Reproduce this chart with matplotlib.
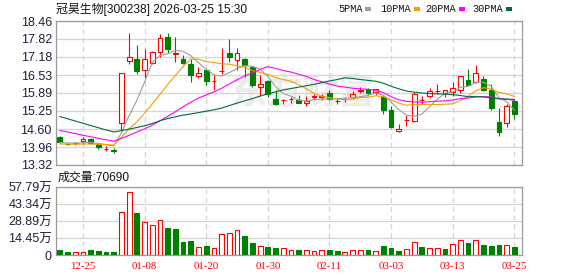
import matplotlib
matplotlib.use("Agg")
import matplotlib.pyplot as plt
from matplotlib.patches import Rectangle

plt.rcParams['font.family'] = ['Liberation Sans', 'Noto Sans CJK SC', 'DejaVu Sans']

# daily K-line, 300238, 2025-12-22 .. 2026-03-25
open_ = [14.33, 14.08, 14.09, 14.16, 14.25, 14.07, 13.88, 13.84, 14.83, 17.04,
         17.09, 16.70, 16.97, 17.36, 17.88, 17.29, 17.12, 16.94, 16.51, 16.70,
         16.31, 16.67, 17.30, 17.08, 17.12, 16.82, 16.10, 16.32, 15.69, 15.64,
         15.68, 15.65, 15.53, 15.76, 15.76, 15.89, 15.61, 15.66, 15.75, 15.97,
         16.04, 15.92, 15.74, 15.27, 14.52, 14.92, 14.88, 15.64, 15.80, 15.95,
         15.89, 15.92, 16.01, 16.37, 16.28, 16.40, 15.98, 14.87, 14.82, 15.59]
high = [14.36, 14.12, 14.14, 14.31, 14.27, 14.08, 14.01, 13.93, 16.62, 18.04,
        17.60, 17.45, 17.39, 18.00, 18.04, 17.88, 17.24, 17.12, 16.82, 16.70,
        16.52, 17.48, 17.80, 17.48, 17.14, 16.84, 16.52, 16.34, 15.98, 15.69,
        15.75, 15.81, 15.77, 15.87, 15.87, 15.99, 15.69, 15.75, 15.95, 16.11,
        16.08, 16.04, 15.81, 15.41, 14.79, 15.09, 15.93, 15.77, 16.08, 16.20,
        16.01, 16.29, 16.49, 16.74, 16.88, 16.49, 16.20, 15.36, 15.48, 15.69]
low = [14.10, 14.02, 14.05, 14.07, 14.07, 13.90, 13.83, 13.74, 14.55, 16.94,
       16.58, 16.43, 16.94, 17.18, 17.30, 16.98, 16.94, 16.29, 16.43, 16.16,
       16.01, 16.58, 16.98, 16.70, 16.46, 16.12, 15.80, 15.75, 15.45, 15.48,
       15.53, 15.53, 15.41, 15.69, 15.63, 15.63, 15.48, 15.57, 15.69, 15.89,
       15.87, 15.81, 15.15, 14.63, 14.49, 14.70, 14.85, 15.51, 15.71, 15.87,
       15.75, 15.77, 15.89, 16.16, 16.26, 15.95, 15.27, 14.34, 14.67, 14.97]
close = [14.13, 14.07, 14.10, 14.26, 14.09, 13.95, 13.89, 13.83, 16.60, 17.16,
         16.67, 17.12, 17.34, 17.84, 17.46, 17.30, 16.97, 16.53, 16.60, 16.32,
         16.32, 16.68, 17.18, 17.30, 16.88, 16.16, 16.20, 15.84, 15.51, 15.65,
         15.69, 15.53, 15.60, 15.77, 15.77, 15.69, 15.60, 15.67, 15.87, 15.98,
         15.89, 16.04, 15.27, 14.67, 14.61, 14.93, 15.84, 15.65, 15.96, 15.96,
         15.98, 16.08, 16.49, 16.16, 16.62, 16.01, 15.35, 14.49, 15.41, 15.15]

ma5 = [14.12, 14.11, 14.10, 14.12, 14.13, 14.09, 14.05, 14.00, 14.47, 15.09,
       15.63, 16.28, 16.98, 17.23, 17.29, 17.41, 17.38, 17.22, 16.97, 16.74,
       16.54, 16.49, 16.62, 16.76, 16.87, 16.84, 16.74, 16.48, 16.12, 15.87,
       15.78, 15.64, 15.60, 15.65, 15.67, 15.67, 15.69, 15.70, 15.72, 15.76,
       15.80, 15.89, 15.81, 15.57, 15.30, 15.10, 15.06, 15.14, 15.40, 15.67,
       15.88, 15.93, 16.09, 16.13, 16.27, 16.27, 16.13, 15.73, 15.58, 15.28]
ma10 = [14.07, 14.07, 14.06, 14.07, 14.07, 14.06, 14.05, 14.03, 14.31, 14.61,
        14.86, 15.16, 15.50, 15.84, 16.19, 16.52, 16.83, 17.10, 17.10, 17.01,
        16.98, 16.93, 16.92, 16.86, 16.81, 16.69, 16.62, 16.55, 16.44, 16.37,
        16.31, 16.19, 16.04, 15.88, 15.77, 15.73, 15.67, 15.65, 15.68, 15.72,
        15.74, 15.79, 15.76, 15.65, 15.53, 15.45, 15.48, 15.48, 15.48, 15.48,
        15.49, 15.50, 15.62, 15.77, 15.97, 16.08, 16.03, 15.91, 15.86, 15.77]
ma20 = [14.55, 14.50, 14.44, 14.38, 14.33, 14.27, 14.22, 14.17, 14.27, 14.38,
        14.50, 14.61, 14.74, 14.90, 15.06, 15.22, 15.40, 15.56, 15.71, 15.82,
        15.93, 16.06, 16.21, 16.36, 16.50, 16.61, 16.73, 16.83, 16.77, 16.69,
        16.64, 16.56, 16.48, 16.37, 16.29, 16.21, 16.14, 16.10, 16.06, 16.04,
        16.02, 15.99, 15.90, 15.76, 15.65, 15.59, 15.57, 15.56, 15.58, 15.60,
        15.61, 15.64, 15.69, 15.71, 15.75, 15.76, 15.75, 15.69, 15.67, 15.63]
ma30 = [15.05, 14.97, 14.89, 14.81, 14.73, 14.65, 14.57, 14.50, 14.55, 14.60,
        14.66, 14.72, 14.80, 14.90, 14.98, 15.04, 15.10, 15.14, 15.19, 15.24,
        15.29, 15.35, 15.44, 15.53, 15.61, 15.69, 15.78, 15.86, 15.93, 16.00,
        16.05, 16.10, 16.15, 16.20, 16.26, 16.32, 16.37, 16.43, 16.41, 16.37,
        16.34, 16.31, 16.24, 16.13, 16.04, 15.96, 15.92, 15.89, 15.87, 15.86,
        15.85, 15.83, 15.80, 15.76, 15.76, 15.75, 15.72, 15.68, 15.67, 15.66]

# volume in 万 (10k shares)
vol = [4.2, 2.5, 2.2, 2.2, 4.2, 3.3, 2.5, 2.5, 36.7, 53.5,
       35.9, 28.4, 25.1, 30.1, 22.8, 21.7, 11.1, 11.7, 6.7, 7.8,
       5.8, 18.1, 18.9, 20.9, 16.1, 10.3, 7.5, 7.0, 6.1, 5.8,
       3.9, 4.2, 3.9, 3.1, 3.9, 4.2, 3.3, 2.2, 3.9, 3.9,
       4.2, 3.3, 7.5, 5.8, 3.3, 5.0, 11.4, 6.7, 5.6, 5.6,
       5.0, 9.7, 13.1, 10.6, 13.1, 8.9, 7.5, 8.9, 8.9, 7.069]
vol_up = [0, 0, 1, 1, 0, 0, 0, 0, 1, 1,
          0, 1, 1, 1, 0, 0, 0, 0, 1, 0,
          1, 1, 1, 1, 0, 0, 1, 0, 0, 1,
          1, 0, 1, 1, 1, 0, 0, 1, 1, 1,
          0, 1, 0, 0, 0, 1, 1, 0, 1, 1,
          0, 1, 1, 0, 1, 0, 0, 0, 1, 0]

date_pos = [3, 11, 19, 27, 35, 43, 51, 59]
date_labels = ['12-25', '01-08', '01-20', '01-30', '02-11', '03-03', '03-13', '03-25']
price_ticks = [13.32, 13.96, 14.60, 15.25, 15.89, 16.53, 17.18, 17.82, 18.46]
vol_ticks = [0, 14.45, 28.89, 43.34, 57.79]

RED = '#ff0000'
GREEN = '#008000'
FRAME = '#9a9a9a'
GRID = '#d4d4d4'
TXT = '#1e1e3c'

W, H = 578, 276
fig = plt.figure(figsize=(W / 100, H / 100), dpi=100)
ax = fig.add_axes([56 / W, (H - 165) / H, 466 / W, 144 / H])
axv = fig.add_axes([56 / W, (H - 255) / H, 466 / W, 68 / H])

x = list(range(len(close)))

for a in (ax, axv):
    a.set_xlim(-0.5, 60.0)
    for s in a.spines.values():
        s.set_color(FRAME)
        s.set_linewidth(0.9)
    a.set_axisbelow(True)
    a.tick_params(length=0, pad=3, labelsize=9, colors=TXT)
    a.set_xticks(date_pos)
    a.grid(axis='y', color=GRID, lw=0.9)
    a.grid(axis='x', color=GRID, lw=0.9, ls=(0, (4, 3)))

# price panel
ax.set_ylim(13.32, 18.46)
ax.set_yticks(price_ticks)
ax.set_yticklabels(['%.2f' % t for t in price_ticks])
ax.set_xticklabels([])

ax.text(0.53, 0.5, '东方财富', transform=ax.transAxes, ha='center', va='center',
        fontsize=26, fontweight='bold', color='#ececec', family=['Noto Sans CJK SC'], zorder=0.5)

for i in x:
    o, c = open_[i], close[i]
    col = RED if c >= o else GREEN
    bot, top = min(o, c), max(o, c)
    ax.vlines(i, low[i], bot, color=col, lw=0.8, zorder=3)
    ax.vlines(i, top, high[i], color=col, lw=0.8, zorder=3)
    ax.bar(i, max(top - bot, 0.004), bottom=bot, width=0.62,
           facecolor='white' if c >= o else GREEN, edgecolor=col, lw=0.8, zorder=3)

ax.plot(x, ma5, color='#9d9d9d', lw=0.8, zorder=4)
ax.plot(x, ma10, color='#f0a000', lw=0.8, zorder=4)
ax.plot(x, ma20, color='#ff00ff', lw=0.8, zorder=4)
ax.plot(x, ma30, color='#006b3c', lw=0.8, zorder=4)

# volume panel
axv.set_ylim(0, 57.79)
axv.set_yticks(vol_ticks)
axv.set_yticklabels(['0'] + ['%.2f万' % t for t in vol_ticks[1:]])
axv.set_xticklabels(date_labels, family=['Liberation Serif'], fontsize=7.8, color=RED)
axv.tick_params(axis='x', pad=5)
for i in x:
    up = vol_up[i]
    axv.bar(i, vol[i], width=0.62, facecolor='white' if up else GREEN,
            edgecolor=RED if up else GREEN, lw=0.8, zorder=3)

# header texts
fig.text(56 / W, 1 - 9 / H, '冠昊生物[300238] 2026-03-25 15:30', fontsize=8.6,
         color='#111111', va='center', ha='left')
fig.text(58 / W, 1 - 178 / H, '成交量:70690', fontsize=8.6, color='#111111',
         va='center', ha='left')

legend = [('5PMA', '#9d9d9d', 338), ('10PMA', '#f0a000', 380),
          ('20PMA', '#ff00ff', 425), ('30PMA', '#006b3c', 472)]
for name, col, px in legend:
    t = fig.text(px / W, 1 - 9 / H, name, fontsize=7.4, family=['Liberation Mono'],
                 color='#111111', va='center', ha='left')
    n = len(name)
    rx = px + n * 6.1 + 3
    fig.patches.append(Rectangle((rx / W, 1 - 11 / H), 6 / W, 4 / H,
                                 transform=fig.transFigure, facecolor=col, edgecolor='none'))

fig.savefig('out.png', dpi=100)
